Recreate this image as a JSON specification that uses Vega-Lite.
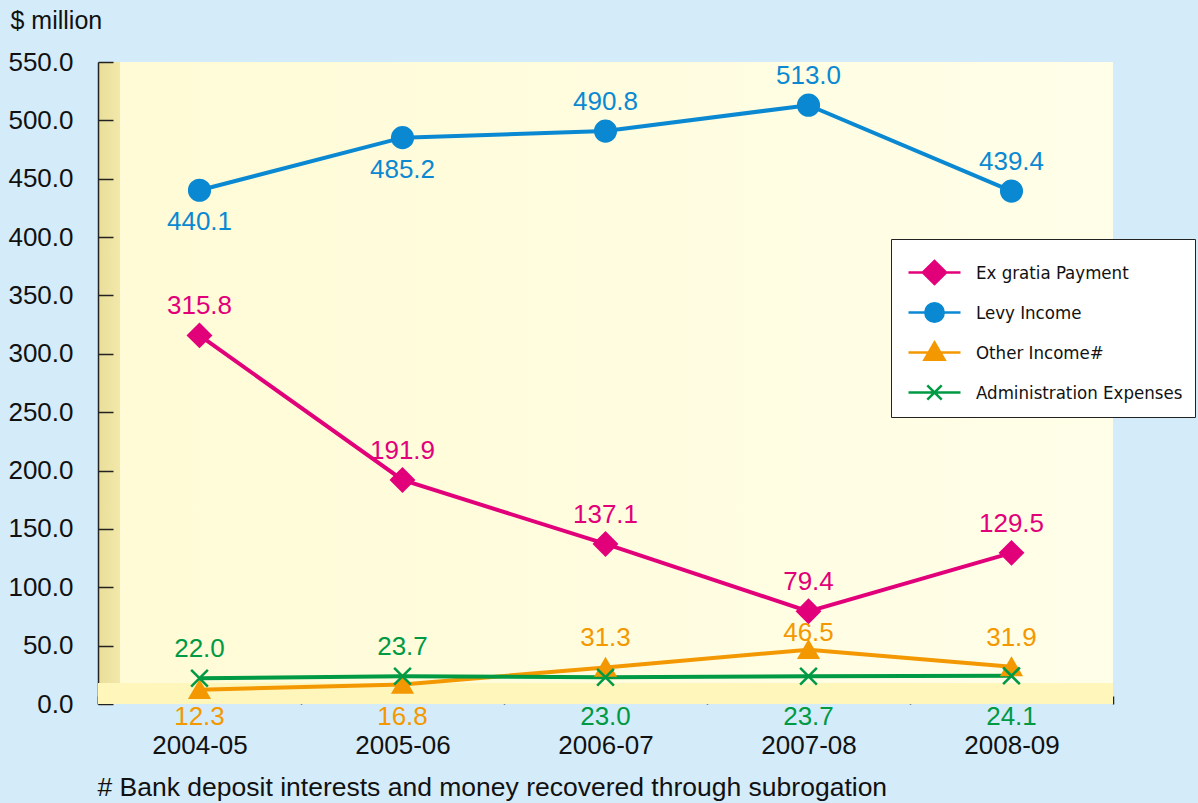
{
  "$schema": "https://vega.github.io/schema/vega-lite/v6.json",
  "width": 1015,
  "height": 642,
  "autosize": "none",
  "padding": {"left": 98, "top": 62, "right": 85, "bottom": 99},
  "background": "#d4ebf9",
  "config": {
    "font": "Liberation Sans",
    "view": {
      "stroke": null,
      "fill": {
        "gradient": "linear", "x1": 0, "y1": 0, "x2": 1, "y2": 0,
        "stops": [
          {"offset": 0, "color": "#e9de98"},
          {"offset": 0.0215, "color": "#f2e8aa"},
          {"offset": 0.0217, "color": "#fffbd6"},
          {"offset": 1, "color": "#fffee8"}
        ]
      }
    }
  },
  "data": {
    "values": [
      {"year": "2004-05", "series": "Ex gratia Payment", "value": 315.8},
      {"year": "2005-06", "series": "Ex gratia Payment", "value": 191.9},
      {"year": "2006-07", "series": "Ex gratia Payment", "value": 137.1},
      {"year": "2007-08", "series": "Ex gratia Payment", "value": 79.4},
      {"year": "2008-09", "series": "Ex gratia Payment", "value": 129.5},
      {"year": "2004-05", "series": "Levy Income", "value": 440.1},
      {"year": "2005-06", "series": "Levy Income", "value": 485.2},
      {"year": "2006-07", "series": "Levy Income", "value": 490.8},
      {"year": "2007-08", "series": "Levy Income", "value": 513.0},
      {"year": "2008-09", "series": "Levy Income", "value": 439.4},
      {"year": "2004-05", "series": "Other Income#", "value": 12.3},
      {"year": "2005-06", "series": "Other Income#", "value": 16.8},
      {"year": "2006-07", "series": "Other Income#", "value": 31.3},
      {"year": "2007-08", "series": "Other Income#", "value": 46.5},
      {"year": "2008-09", "series": "Other Income#", "value": 31.9},
      {"year": "2004-05", "series": "Administration Expenses", "value": 22.0},
      {"year": "2005-06", "series": "Administration Expenses", "value": 23.7},
      {"year": "2006-07", "series": "Administration Expenses", "value": 23.0},
      {"year": "2007-08", "series": "Administration Expenses", "value": 23.7},
      {"year": "2008-09", "series": "Administration Expenses", "value": 24.1}
    ]
  },
  "encoding": {
    "x": {
      "field": "year", "type": "nominal", "sort": null,
      "scale": {"paddingInner": 0, "paddingOuter": 0},
      "axis": {
        "title": "# Bank deposit interests and money recovered through subrogation",
        "titleX": -1, "titleY": 83, "titleAlign": "left", "titleAnchor": "start",
        "titleBaseline": "middle", "titleFontSize": 26.5, "titleFontWeight": "normal", "titleColor": "#111111",
        "labelFontSize": 26, "labelAngle": 0, "labelColor": "#111111", "labelPadding": 36,
        "tickBand": "extent", "tickSize": -8, "tickColor": "#222222", "tickWidth": 1.5,
        "domain": false, "grid": false
      }
    },
    "y": {
      "field": "value", "type": "quantitative",
      "scale": {"domain": [0, 550], "nice": false, "zero": true},
      "axis": {
        "title": "$ million", "titleAngle": 0, "titleAlign": "left", "titleBaseline": "middle",
        "titleX": -88, "titleY": -42, "titleFontSize": 25, "titleFontWeight": "normal", "titleColor": "#111111",
        "values": [0, 50, 100, 150, 200, 250, 300, 350, 400, 450, 500, 550],
        "format": ".1f", "labelFontSize": 26, "labelColor": "#111111", "labelPadding": 40,
        "tickSize": -15, "tickColor": "#222222", "tickWidth": 1.5,
        "domainColor": "#222222", "domainWidth": 1.5, "grid": false
      }
    }
  },
  "layer": [
    {
      "transform": [{"filter": "datum.series == 'Levy Income' && datum.year == '2004-05'"}],
      "mark": {"type": "rect", "color": "#fff6bc"},
      "encoding": {
        "x": {"value": 0},
        "x2": {"value": "width"},
        "y": {"datum": 0, "type": "quantitative"},
        "y2": {"datum": 18}
      }
    },
    {
      "mark": {"type": "line", "strokeWidth": 4},
      "encoding": {
        "color": {
          "field": "series", "type": "nominal",
          "scale": {
            "domain": ["Ex gratia Payment", "Levy Income", "Other Income#", "Administration Expenses"],
            "range": ["#e2007a", "#0a89d2", "#f39800", "#009944"]
          },
          "legend": null
        }
      }
    },
    {
      "mark": {"type": "point", "strokeWidth": 2.5, "opacity": 1},
      "encoding": {
        "fill": {
          "field": "series", "type": "nominal",
          "scale": {
            "domain": ["Ex gratia Payment", "Levy Income", "Other Income#", "Administration Expenses"],
            "range": ["#e2007a", "#0a89d2", "#f39800", "#009944"]
          },
          "legend": null
        },
        "stroke": {
          "field": "series", "type": "nominal",
          "scale": {
            "domain": ["Ex gratia Payment", "Levy Income", "Other Income#", "Administration Expenses"],
            "range": ["#e2007a", "#0a89d2", "#f39800", "#009944"]
          },
          "legend": null
        },
        "shape": {
          "field": "series", "type": "nominal",
          "scale": {
            "domain": ["Ex gratia Payment", "Levy Income", "Other Income#", "Administration Expenses"],
            "range": ["diamond", "circle", "triangle-up", "M-1,-1L1,1M-1,1L1,-1"]
          },
          "legend": null
        },
        "size": {
          "field": "series", "type": "nominal",
          "scale": {
            "domain": ["Ex gratia Payment", "Levy Income", "Other Income#", "Administration Expenses"],
            "range": [500, 280, 360, 220]
          },
          "legend": null
        }
      }
    },
    {
      "transform": [{"filter": "!((datum.series == 'Levy Income' && (datum.year == '2004-05' || datum.year == '2005-06')) || (datum.series == 'Other Income#' && (datum.year == '2004-05' || datum.year == '2005-06' || datum.year == '2007-08')) || (datum.series == 'Administration Expenses' && datum.year != '2004-05' && datum.year != '2005-06'))"}],
      "mark": {"type": "text", "fontSize": 26, "dy": -29, "baseline": "middle"},
      "encoding": {
        "text": {"field": "value", "type": "quantitative", "format": ".1f"},
        "color": {"field": "series", "type": "nominal", "legend": null}
      }
    },
    {
      "transform": [{"filter": "datum.series == 'Other Income#' && datum.year == '2007-08'"}],
      "mark": {"type": "text", "fontSize": 26, "dy": -17, "baseline": "middle"},
      "encoding": {
        "text": {"field": "value", "type": "quantitative", "format": ".1f"},
        "color": {"field": "series", "type": "nominal", "legend": null}
      }
    },
    {
      "transform": [{"filter": "datum.series == 'Levy Income' && (datum.year == '2004-05' || datum.year == '2005-06')"}],
      "mark": {"type": "text", "fontSize": 26, "dy": 32, "baseline": "middle"},
      "encoding": {
        "text": {"field": "value", "type": "quantitative", "format": ".1f"},
        "color": {"field": "series", "type": "nominal", "legend": null}
      }
    },
    {
      "transform": [{"filter": "(datum.series == 'Other Income#' && (datum.year == '2004-05' || datum.year == '2005-06')) || (datum.series == 'Administration Expenses' && datum.year != '2004-05' && datum.year != '2005-06')"}],
      "mark": {"type": "text", "fontSize": 26, "dy": 13, "baseline": "middle"},
      "encoding": {
        "y": {"datum": 0, "type": "quantitative"},
        "text": {"field": "value", "type": "quantitative", "format": ".1f"},
        "color": {"field": "series", "type": "nominal", "legend": null}
      }
    },
    {
      "transform": [{"filter": "false"}],
      "mark": {"type": "point", "filled": true, "strokeWidth": 2.5, "opacity": 1},
      "encoding": {
        "fill": {
          "field": "series", "type": "nominal",
          "scale": {
            "domain": ["Ex gratia Payment", "Levy Income", "Other Income#", "Administration Expenses"],
            "range": ["#e2007a", "#0a89d2", "#f39800", "#009944"]
          },
          "legend": {
            "title": null, "orient": "none", "legendX": 793, "legendY": 177,
            "padding": 12, "fillColor": "#ffffff", "strokeColor": "#222222",
            "symbolSize": 1600, "symbolStrokeWidth": 2.5, "symbolOffset": 10, "symbolOpacity": 1,
            "rowPadding": 1, "gridAlign": "all",
            "labelFont": "DejaVu Sans Condensed, Liberation Sans", "labelFontSize": 18.5, "labelColor": "#111111",
            "labelOffset": 20, "labelLimit": 400
          }
        },
        "stroke": {
          "field": "series", "type": "nominal",
          "scale": {
            "domain": ["Ex gratia Payment", "Levy Income", "Other Income#", "Administration Expenses"],
            "range": ["#e2007a", "#0a89d2", "#f39800", "#009944"]
          },
          "legend": {
            "title": null, "orient": "none", "legendX": 793, "legendY": 177,
            "padding": 12, "fillColor": "#ffffff", "strokeColor": "#222222",
            "symbolSize": 1600, "symbolStrokeWidth": 2.5, "symbolOffset": 10, "symbolOpacity": 1,
            "rowPadding": 1, "gridAlign": "all",
            "labelFont": "DejaVu Sans Condensed, Liberation Sans", "labelFontSize": 18.5, "labelColor": "#111111",
            "labelOffset": 20, "labelLimit": 400
          }
        },
        "shape": {
          "field": "series", "type": "nominal",
          "scale": {
            "domain": ["Ex gratia Payment", "Levy Income", "Other Income#", "Administration Expenses"],
            "range": [
              "M-1.3,0H1.3M-0.58,0L0,-0.58L0.58,0L0,0.58Z",
              "M-1.3,0H1.3M-0.46,0A0.46,0.46,0,1,0,0.46,0A0.46,0.46,0,1,0,-0.46,0Z",
              "M-1.3,0H1.3M0,-0.5L0.5,0.36L-0.5,0.36Z",
              "M-1.3,0H1.3M-0.36,-0.36L0.36,0.36M-0.36,0.36L0.36,-0.36"
            ]
          },
          "legend": {
            "title": null, "orient": "none", "legendX": 793, "legendY": 177,
            "padding": 12, "fillColor": "#ffffff", "strokeColor": "#222222",
            "symbolSize": 1600, "symbolStrokeWidth": 2.5, "symbolOffset": 10, "symbolOpacity": 1,
            "rowPadding": 1, "gridAlign": "all",
            "labelFont": "DejaVu Sans Condensed, Liberation Sans", "labelFontSize": 18.5, "labelColor": "#111111",
            "labelOffset": 20, "labelLimit": 400
          }
        }
      }
    }
  ],
  "resolve": {"scale": {"fill": "independent", "stroke": "independent", "shape": "independent", "size": "independent"}}
}
